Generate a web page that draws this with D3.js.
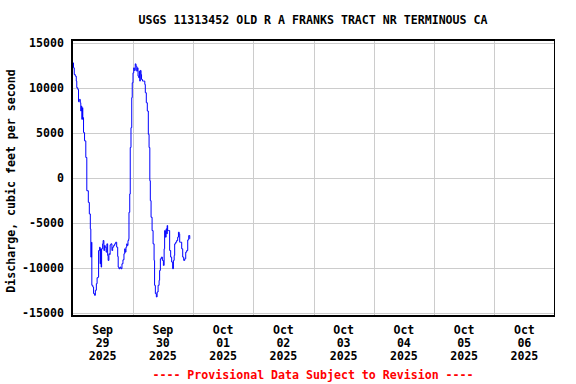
<!DOCTYPE html><meta charset="utf-8">
<style>
*{margin:0}
body{background:#fff}
text{font-family:"DejaVu Sans Mono",monospace;font-weight:bold;font-size:11.6px}
.grid line{stroke:#ccc;stroke-width:1px;shape-rendering:crispEdges}
.grid path{display:none}
</style>
<svg width="576" height="384"></svg>
<script src="https://d3js.org/d3.v7.min.js"></script>
<script>
// hours after 2025-09-29 00:00, discharge in cfs
const hours = [0,0.4,0.7,1.1,1.5,1.7,2.1,2.4,2.7,3.1,3.3,3.5,3.7,4.0,4.1,4.4,4.8,5.3,5.7,6.3,6.7,7.1,7.3,7.6,7.7,8.1,8.4,8.8,9.1,9.5,9.8,10.2,10.4,10.8,11.0,11.2,11.4,11.6,12.0,12.2,12.5,12.8,13.0,13.4,13.7,14.0,14.2,14.5,14.8,15.0,15.3,15.7,16.0,16.4,16.8,17.2,17.6,18.0,18.2,18.5,18.9,19.3,19.7,20.1,20.5,20.8,21.0,21.3,21.6,21.8,22.1,22.4,22.5,22.8,23.0,23.3,23.6,23.8,24.1,24.4,24.6,25.0,25.3,25.6,25.8,26.1,26.4,26.6,26.8,27.0,27.3,27.5,27.9,28.3,28.8,29.0,29.4,29.8,30.2,30.5,30.8,31.0,31.3,31.7,32.1,32.5,32.7,33.0,33.4,33.7,34.1,34.5,34.7,35.0,35.4,35.8,36.2,36.5,36.7,37.0,37.3,37.6,37.7,37.9,38.3,38.7,39.1,39.5,39.9,40.2,40.5,40.7,41.1,41.5,41.9,42.2,42.5,42.7,43.1,43.5,43.9,44.3,44.7,45.1,45.5,45.9,46.3,46.7];
const flow = [12740,12190,11450,11270,10720,9980,9800,8430,8690,8320,7400,7950,6480,7770,6670,5010,4090,2250,-1440,-2730,-4010,-5670,-8800,-7150,-11930,-12120,-12850,-13040,-12480,-11750,-11090,-11010,-8070,-7700,-9540,-7880,-9910,-7880,-7330,-6960,-8070,-7510,-7700,-8250,-7330,-8620,-9170,-8430,-8510,-7440,-7330,-8070,-7700,-7510,-7330,-7150,-7700,-8730,-9910,-10090,-9910,-10090,-9540,-9100,-8430,-7880,-8250,-7700,-7330,-7510,-6960,-6780,-3830,-1800,3350,5560,8880,10530,11640,12190,11900,12630,12370,11820,12190,11270,11090,11820,10720,11900,11450,10900,10720,10720,10350,9430,8320,7400,4820,3350,-330,-2540,-4380,-5860,-7330,-9170,-11930,-12850,-13220,-12670,-11930,-11380,-10280,-8990,-8800,-9170,-9720,-7880,-5860,-6590,-5670,-6220,-5300,-5860,-5860,-8070,-8800,-9350,-10090,-9170,-8620,-7330,-7150,-6960,-6590,-6040,-6220,-7150,-7150,-7880,-8800,-9170,-8990,-8250,-8070,-6890,-6410,-6780];
const yTicks = [-15000,-10000,-5000,0,5000,10000,15000];
const dayLabels = [["Sep","29","2025"],["Sep","30","2025"],["Oct","01","2025"],["Oct","02","2025"],
                   ["Oct","03","2025"],["Oct","04","2025"],["Oct","05","2025"],["Oct","06","2025"]];
const title = "USGS 11313452 OLD R A FRANKS TRACT NR TERMINOUS CA";

const svg = d3.select("svg");
const t0 = Date.UTC(2025,8,29), H = 3600e3, D = 24*H;
const x = d3.scaleUtc().domain([new Date(t0), new Date(t0+8*D)]).range([72.5,554.5]);
const y = d3.scaleLinear().domain([-15000,15000]).range([313,42.5]);
const plotTop = 40, plotBot = 316;

// grid
svg.append("g").attr("class","grid").attr("transform",`translate(0,${plotBot})`)
   .call(d3.axisBottom(x).tickValues(d3.range(1,8).map(i=>new Date(t0+i*D)))
          .tickSize(-(plotBot-plotTop)).tickFormat(""));
svg.append("g").attr("class","grid").attr("transform","translate(72.5,0)")
   .call(d3.axisLeft(y).tickValues(yTicks).tickSize(-(554.5-72.5)).tickFormat(""));

// y labels
svg.append("g").selectAll("text").data(yTicks).join("text")
   .attr("x",64).attr("y",d=>y(d)+4).attr("text-anchor","end").text(d=>d);

// x labels (three lines under each day, at noon)
const xl = svg.append("g").selectAll("g").data(dayLabels).join("g")
   .attr("transform",(d,i)=>`translate(${x(new Date(t0+i*D+D/2))},0)`);
xl.selectAll("text").data(d=>d).join("text")
   .attr("y",(d,j)=>334+j*13).attr("text-anchor","middle").text(d=>d);

// data line
const pts = hours.map((h,i)=>[new Date(t0+h*H), flow[i]]);
svg.append("path").datum(pts)
   .attr("fill","none").attr("stroke","#0000ff").attr("stroke-width",1)
   .attr("d", d3.line().x(d=>x(d[0])).y(d=>y(d[1])).curve(d3.curveStepAfter));

// frame
svg.append("rect").attr("x",72).attr("y",plotTop).attr("width",554.5-72).attr("height",plotBot-plotTop)
   .attr("fill","none").attr("stroke","#000").attr("stroke-width",1.5).attr("shape-rendering","crispEdges");

svg.append("text").attr("x",313).attr("y",24).attr("text-anchor","middle").text(title);
svg.append("text").attr("transform","translate(15,181) rotate(-90)").attr("text-anchor","middle")
   .text("Discharge, cubic feet per second");
svg.append("text").attr("x",313).attr("y",379).attr("text-anchor","middle").attr("fill","#ff0000")
   .text("---- Provisional Data Subject to Revision ----");
</script>
